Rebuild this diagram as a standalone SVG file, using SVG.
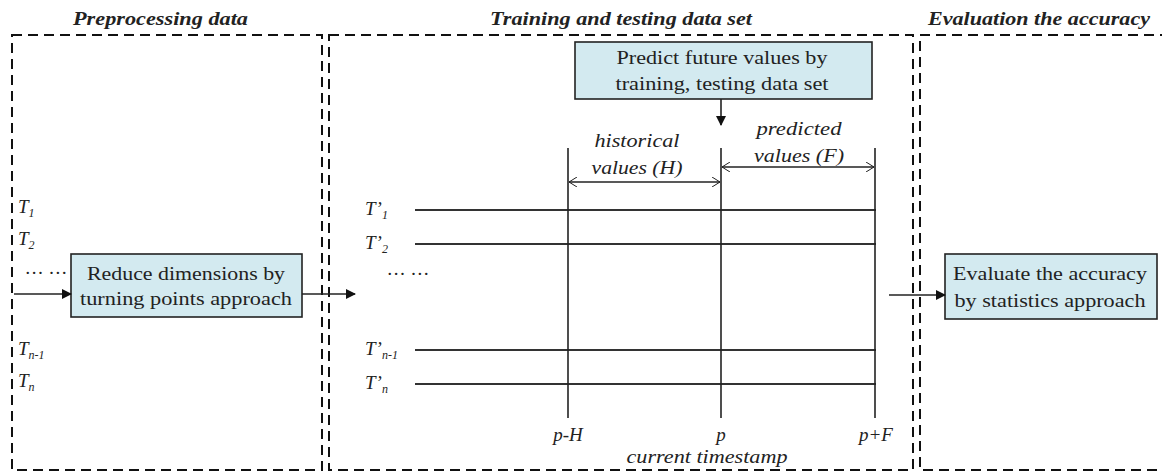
<svg xmlns="http://www.w3.org/2000/svg" width="1162" height="473" viewBox="0 0 1162 473">
<style>
text{fill:#222}
.title{font-size:19px;font-weight:bold;font-style:italic}
.box{fill:#d3eaf0;stroke:#222;stroke-width:1.6}
.bt{font-size:19px;text-anchor:middle}
.it{font-size:19px;font-style:italic}
.itc{font-size:19px;font-style:italic;text-anchor:middle}
.sub{font-size:12px}
.panel{fill:none;stroke:#111;stroke-width:2;stroke-dasharray:10 6}
.ln{stroke:#222;stroke-width:1.6;fill:none}
.sl{stroke:#333;stroke-width:1.8;fill:none}
</style>
<defs>
<marker id="ah" markerWidth="10" markerHeight="10" refX="9" refY="5" orient="auto" markerUnits="userSpaceOnUse">
<path d="M0,0 L10,5 L0,10 z" fill="#111"/>
</marker>
<marker id="oa" markerWidth="8" markerHeight="10" refX="8" refY="5" orient="auto-start-reverse" markerUnits="userSpaceOnUse">
<path d="M0,0 L8,5 L0,10" fill="none" stroke="#222" stroke-width="1"/>
</marker>
</defs>

<g id="panel-preprocessing">
<rect class="panel" x="12" y="35" width="310" height="435"/>
<text font-family="Liberation Serif, serif" class="title" x="73" y="25" textLength="175" lengthAdjust="spacingAndGlyphs">Preprocessing data</text>
</g>
<g id="panel-training">
<rect class="panel" x="329" y="35" width="584" height="435"/>
<text font-family="Liberation Serif, serif" class="title" x="490" y="25" textLength="262" lengthAdjust="spacingAndGlyphs">Training and testing data set</text>
</g>
<g id="panel-evaluation">
<path class="panel" d="M1170,35 H920 V470 H1170"/>
<text font-family="Liberation Serif, serif" class="title" x="928" y="25" textLength="222" lengthAdjust="spacingAndGlyphs">Evaluation the accuracy</text>
</g>

<g id="inputs">
<text font-family="Liberation Serif, serif" class="it" x="18" y="213">T<tspan class="sub" dy="4">1</tspan></text>
<text font-family="Liberation Serif, serif" class="it" x="18" y="245">T<tspan class="sub" dy="4">2</tspan></text>
<text font-family="Liberation Serif, serif" class="it" x="26" y="274" letter-spacing="1">… …</text>
<text font-family="Liberation Serif, serif" class="it" x="18" y="355">T<tspan class="sub" dy="4">n-1</tspan></text>
<text font-family="Liberation Serif, serif" class="it" x="18" y="387">T<tspan class="sub" dy="4">n</tspan></text>
</g>

<g id="reduce">
<rect class="box" x="71" y="254" width="231" height="63"/>
<text font-family="Liberation Serif, serif" class="bt" x="186" y="280" textLength="198" lengthAdjust="spacingAndGlyphs">Reduce dimensions by</text>
<text font-family="Liberation Serif, serif" class="bt" x="186" y="305" textLength="212" lengthAdjust="spacingAndGlyphs">turning points approach</text>
</g>

<g id="predict">
<rect class="box" x="575" y="42" width="297" height="57"/>
<text font-family="Liberation Serif, serif" class="bt" x="722" y="64" textLength="211" lengthAdjust="spacingAndGlyphs">Predict future values by</text>
<text font-family="Liberation Serif, serif" class="bt" x="722" y="90" textLength="213" lengthAdjust="spacingAndGlyphs">training, testing data set</text>
</g>

<g id="evaluate">
<rect class="box" x="945" y="254" width="212" height="65"/>
<text font-family="Liberation Serif, serif" class="bt" x="1050" y="280" textLength="194" lengthAdjust="spacingAndGlyphs">Evaluate the accuracy</text>
<text font-family="Liberation Serif, serif" class="bt" x="1050" y="307" textLength="191" lengthAdjust="spacingAndGlyphs">by statistics approach</text>
</g>

<g id="series">
<text font-family="Liberation Serif, serif" class="it" x="365" y="215">T’<tspan class="sub" dy="4">1</tspan></text>
<text font-family="Liberation Serif, serif" class="it" x="365" y="249">T’<tspan class="sub" dy="4">2</tspan></text>
<text font-family="Liberation Serif, serif" class="it" x="388" y="275" letter-spacing="1">… …</text>
<text font-family="Liberation Serif, serif" class="it" x="365" y="355">T’<tspan class="sub" dy="4">n-1</tspan></text>
<text font-family="Liberation Serif, serif" class="it" x="365" y="389">T’<tspan class="sub" dy="4">n</tspan></text>
<line class="sl" x1="415" y1="210" x2="876" y2="210"/>
<line class="sl" x1="415" y1="244" x2="876" y2="244"/>
<line class="sl" x1="415" y1="350" x2="876" y2="350"/>
<line class="sl" x1="415" y1="384" x2="876" y2="384"/>
</g>

<g id="timeline">
<line class="ln" x1="568" y1="148" x2="568" y2="418"/>
<line class="ln" x1="721" y1="148" x2="721" y2="418"/>
<line class="ln" x1="875" y1="148" x2="875" y2="418"/>
<text font-family="Liberation Serif, serif" class="itc" x="637" y="147" textLength="85" lengthAdjust="spacingAndGlyphs">historical</text>
<text font-family="Liberation Serif, serif" class="itc" x="637" y="174" textLength="91" lengthAdjust="spacingAndGlyphs">values (H)</text>
<text font-family="Liberation Serif, serif" class="itc" x="799" y="135" textLength="85" lengthAdjust="spacingAndGlyphs">predicted</text>
<text font-family="Liberation Serif, serif" class="itc" x="799" y="162" textLength="90" lengthAdjust="spacingAndGlyphs">values (F)</text>
<text font-family="Liberation Serif, serif" class="itc" x="568" y="441">p-H</text>
<text font-family="Liberation Serif, serif" class="itc" x="721" y="441">p</text>
<text font-family="Liberation Serif, serif" class="itc" x="876" y="441">p+F</text>
<text font-family="Liberation Serif, serif" class="itc" x="707" y="463" textLength="161" lengthAdjust="spacingAndGlyphs">current timestamp</text>
</g>

<g id="connectors">
<line class="ln" x1="14" y1="294" x2="71" y2="294" marker-end="url(#ah)"/>
<line class="ln" x1="302" y1="294" x2="355" y2="294" marker-end="url(#ah)"/>
<line class="ln" x1="721" y1="99" x2="721" y2="125" marker-end="url(#ah)"/>
<line class="ln" x1="889" y1="295" x2="945" y2="295" marker-end="url(#ah)"/>
<line class="ln" x1="569" y1="182" x2="720" y2="182" marker-start="url(#oa)" marker-end="url(#oa)"/>
<line class="ln" x1="722" y1="167" x2="874" y2="167" marker-start="url(#oa)" marker-end="url(#oa)"/>
</g>
</svg>
